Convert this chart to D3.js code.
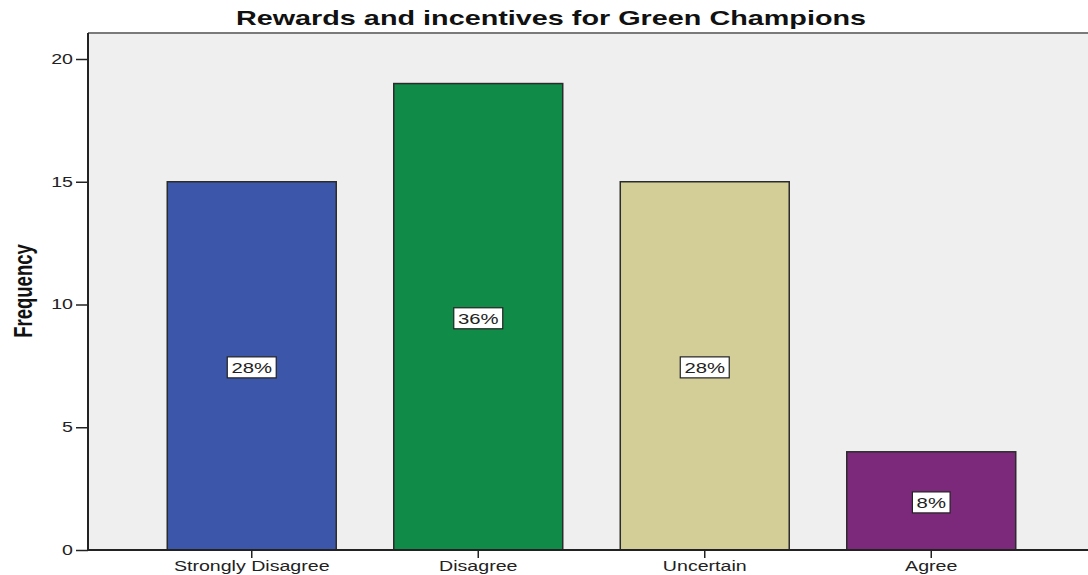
<!DOCTYPE html>
<html>
<head>
<meta charset="utf-8">
<script src="https://cdn.jsdelivr.net/npm/d3@7"></script>
<style>
  html, body { margin: 0; padding: 0; background: #ffffff; }
  svg { display: block; }
</style>
</head>
<body>
<svg id="chart" width="1088" height="575"></svg>
<script>
// Survey responses: frequency per answer
const categories = ["Strongly Disagree", "Disagree", "Uncertain", "Agree"];
const frequencies = [15, 19, 15, 4];
const percentLabels = ["28%", "36%", "28%", "8%"];
const barColors = ["#3c57a9", "#118b48", "#d3ce98", "#7c297b"];
const yTicks = [0, 5, 10, 15, 20];

const svg = d3.select("#chart");
const W = 1088, H = 575;
const plot = { left: 88, top: 33, right: 1100, bottom: 550 };
const SX = 1.4;            // horizontal widening of the typeface
const FONT = "'Liberation Sans', Arial, sans-serif";

const x = d3.scaleBand()
  .domain(categories)
  .range([138.5, 1044.5])
  .paddingInner(0.254)
  .paddingOuter(0.127);

const y = d3.scaleLinear()
  .domain([0, 20])
  .range([plot.bottom, 59]);

// Plot background
svg.append("rect")
  .attr("x", plot.left).attr("y", plot.top)
  .attr("width", plot.right - plot.left).attr("height", plot.bottom - plot.top)
  .attr("fill", "#efefef");

// Top frame line
svg.append("line")
  .attr("x1", plot.left).attr("x2", W)
  .attr("y1", plot.top).attr("y2", plot.top)
  .attr("stroke", "#7a7a7a").attr("stroke-width", 2);

// Bars
svg.append("g").selectAll("rect")
  .data(categories)
  .join("rect")
  .attr("x", d => x(d))
  .attr("y", (d, i) => y(frequencies[i]))
  .attr("width", x.bandwidth())
  .attr("height", (d, i) => y(0) - y(frequencies[i]))
  .attr("fill", (d, i) => barColors[i])
  .attr("stroke", "#2b2b2b")
  .attr("stroke-width", 1.5);

// Y axis (ticks from the axis generator, labels placed with the wide face)
const yAxis = svg.append("g")
  .attr("transform", `translate(${plot.left},0)`)
  .call(d3.axisLeft(y).tickValues(yTicks).tickSize(12).tickFormat(d3.format("d")));
yAxis.select(".domain").remove();
yAxis.selectAll(".tick line").attr("stroke", "#222").attr("stroke-width", 1.5);
yAxis.selectAll(".tick text")
  .attr("x", null)
  .attr("transform", `translate(-15,0) scale(${SX},1)`)
  .attr("fill", "#222")
  .style("font-family", FONT)
  .style("font-size", "14px");

svg.append("line")
  .attr("x1", plot.left).attr("x2", plot.left)
  .attr("y1", plot.top).attr("y2", plot.bottom)
  .attr("stroke", "#222").attr("stroke-width", 2);

// X axis
const xAxis = svg.append("g")
  .attr("transform", `translate(0,${plot.bottom})`)
  .call(d3.axisBottom(x).tickSize(8).tickPadding(3));
xAxis.select(".domain").remove();
xAxis.selectAll(".tick line").attr("stroke", "#222").attr("stroke-width", 1.5);
xAxis.selectAll(".tick text")
  .attr("transform", `scale(${SX},1)`)
  .attr("fill", "#222")
  .style("font-family", FONT)
  .style("font-size", "14px");

svg.append("line")
  .attr("x1", plot.left).attr("x2", W)
  .attr("y1", plot.bottom).attr("y2", plot.bottom)
  .attr("stroke", "#222").attr("stroke-width", 2);

// Percentage labels at mid-height of each bar
const labels = svg.append("g").selectAll("g")
  .data(categories)
  .join("g")
  .attr("transform", (d, i) => `translate(${x(d) + x.bandwidth() / 2},${y(frequencies[i] / 2) + 1.5})`);

labels.each(function(d, i) {
  const g = d3.select(this);
  const t = g.append("text")
    .attr("text-anchor", "middle")
    .attr("dy", "0.36em")
    .attr("transform", `scale(${SX},1)`)
    .attr("fill", "#222")
    .style("font-family", FONT)
    .style("font-size", "14.5px")
    .text(percentLabels[i]);
  const bb = t.node().getBBox();
  const w = bb.width * SX + 8;
  g.insert("rect", "text")
    .attr("x", -w / 2).attr("y", -10.5)
    .attr("width", w).attr("height", 21)
    .attr("fill", "#ffffff")
    .attr("stroke", "#222").attr("stroke-width", 1.2);
});

// Title
svg.append("text")
  .attr("transform", `translate(551,25) scale(1.44,1)`)
  .attr("text-anchor", "middle")
  .attr("fill", "#111")
  .style("font-family", FONT)
  .style("font-weight", "bold")
  .style("font-size", "20px")
  .text("Rewards and incentives for Green Champions");

// Y axis title
svg.append("text")
  .attr("transform", `translate(32,291) scale(${SX},1) rotate(-90)`)
  .attr("text-anchor", "middle")
  .attr("fill", "#111")
  .style("font-family", "'Liberation Sans Narrow', 'Liberation Sans', Arial, sans-serif")
  .style("font-weight", "bold")
  .style("font-size", "18.5px")
  .text("Frequency");
</script>
</body>
</html>
